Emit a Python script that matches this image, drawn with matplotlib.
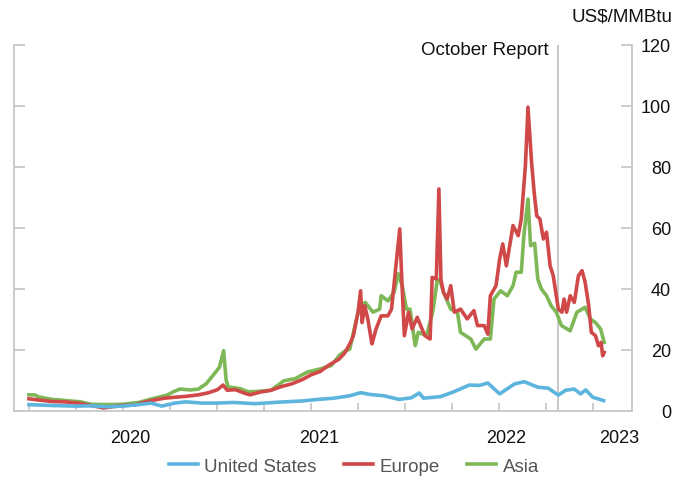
import matplotlib
matplotlib.use("Agg")
import matplotlib.pyplot as plt
import matplotlib.dates as mdates
import numpy as np
import pandas as pd

plt.rcParams['font.family'] = ['Liberation Sans', 'DejaVu Sans']

# ---------------- data (US$/MMBtu) ----------------
us_dates = ["2020-01-01", "2020-02-15", "2020-04-01", "2020-05-01", "2020-06-01", "2020-07-01",
            "2020-08-01", "2020-08-25", "2020-09-15", "2020-10-10", "2020-11-01", "2020-12-01",
            "2021-01-01", "2021-02-01", "2021-03-15", "2021-05-01", "2021-06-15", "2021-07-15",
            "2021-08-15", "2021-09-15", "2021-10-06", "2021-10-25", "2021-11-20", "2021-12-20",
            "2022-01-12", "2022-01-28", "2022-02-05", "2022-03-10", "2022-04-05", "2022-05-05",
            "2022-05-25", "2022-06-10", "2022-07-03", "2022-08-01", "2022-08-20", "2022-09-15",
            "2022-10-05", "2022-10-25", "2022-11-08", "2022-11-25", "2022-12-07", "2022-12-17",
            "2022-12-31", "2023-01-21"]
us_values = [2.1, 1.8, 1.6, 1.7, 1.4, 1.6,
             2.1, 2.6, 1.6, 2.6, 3.0, 2.6,
             2.6, 2.8, 2.4, 2.9, 3.3, 3.8,
             4.2, 5.0, 6.0, 5.4, 5.0, 3.8,
             4.3, 5.9, 4.2, 4.7, 6.3, 8.5,
             8.4, 9.2, 5.6, 8.9, 9.6, 7.8,
             7.5, 5.2, 6.8, 7.2, 5.6, 6.9,
             4.5, 3.4]

eu_dates = ["2020-01-01", "2020-01-20", "2020-02-15", "2020-03-10", "2020-04-05", "2020-05-01",
            "2020-05-25", "2020-06-10", "2020-07-01", "2020-07-25", "2020-08-15", "2020-09-01",
            "2020-09-20", "2020-10-10", "2020-11-01", "2020-11-25", "2020-12-15", "2021-01-01",
            "2021-01-12", "2021-01-20", "2021-02-05", "2021-02-20", "2021-03-05", "2021-03-25",
            "2021-04-15", "2021-05-05", "2021-05-25", "2021-06-15", "2021-07-01", "2021-07-20",
            "2021-08-05", "2021-08-15", "2021-08-25", "2021-09-05", "2021-09-15", "2021-09-22",
            "2021-10-01", "2021-10-06", "2021-10-09", "2021-10-14", "2021-10-20", "2021-10-28",
            "2021-11-05", "2021-11-15", "2021-11-28", "2021-12-05", "2021-12-13", "2021-12-21",
            "2021-12-25", "2021-12-30", "2022-01-07", "2022-01-14", "2022-01-24", "2022-02-02",
            "2022-02-08", "2022-02-18", "2022-02-22", "2022-03-02", "2022-03-07", "2022-03-11",
            "2022-03-16", "2022-03-23", "2022-03-30", "2022-04-06", "2022-04-18", "2022-05-01",
            "2022-05-14", "2022-05-21", "2022-06-03", "2022-06-10", "2022-06-15", "2022-06-26",
            "2022-07-03", "2022-07-09", "2022-07-16", "2022-07-29", "2022-08-08", "2022-08-14",
            "2022-08-22", "2022-08-27", "2022-09-03", "2022-09-08", "2022-09-13", "2022-09-19",
            "2022-09-26", "2022-10-02", "2022-10-09", "2022-10-15", "2022-10-25", "2022-11-01",
            "2022-11-05", "2022-11-10", "2022-11-17", "2022-11-25", "2022-12-03", "2022-12-10",
            "2022-12-16", "2022-12-23", "2022-12-28", "2023-01-05", "2023-01-11", "2023-01-16",
            "2023-01-19", "2023-01-22"]
eu_values = [4.0, 3.6, 3.1, 3.0, 2.6, 1.8,
             1.0, 1.4, 1.8, 2.0, 3.0, 3.6,
             4.2, 4.5, 4.8, 5.3, 6.0, 7.0,
             8.5, 6.8, 7.0, 6.0, 5.3, 6.2,
             6.8, 8.0, 8.9, 10.3, 11.8, 13.0,
             15.0, 16.0, 17.0, 19.0, 22.0, 24.7,
             32.4, 39.4, 29.0, 34.5, 30.2, 22.0,
             26.9, 31.2, 31.2, 33.4, 46.6, 59.7,
             43.0, 24.7, 32.4, 26.9, 30.7, 27.0,
             24.7, 23.6, 43.8, 43.3, 72.8, 43.0,
             38.9, 36.7, 41.1, 32.4, 33.4, 30.2,
             32.9, 28.0, 28.0, 25.2, 37.8, 41.1,
             49.8, 54.8, 47.6, 60.8, 57.5, 63.0,
             80.4, 99.6, 81.5, 71.7, 64.0, 63.0,
             56.4, 58.6, 47.6, 44.4, 33.4, 32.4,
             36.7, 32.4, 37.8, 35.6, 44.4, 46.0,
             42.2, 34.5, 25.8, 24.7, 21.4, 22.5,
             18.1, 19.2]

asia_dates = ["2020-01-01", "2020-01-12", "2020-01-20", "2020-02-15", "2020-03-15", "2020-04-10",
              "2020-05-01", "2020-06-01", "2020-07-01", "2020-08-01", "2020-08-25", "2020-09-25",
              "2020-10-10", "2020-10-20", "2020-11-10", "2020-11-25", "2020-12-10", "2020-12-25",
              "2021-01-05", "2021-01-13", "2021-01-18", "2021-01-22", "2021-02-15", "2021-03-01",
              "2021-03-20", "2021-04-15", "2021-05-10", "2021-06-01", "2021-06-25", "2021-07-20",
              "2021-08-10", "2021-08-25", "2021-09-05", "2021-09-15", "2021-09-25", "2021-10-03",
              "2021-10-15", "2021-10-30", "2021-11-12", "2021-11-15", "2021-11-28", "2021-12-10",
              "2021-12-18", "2021-12-26", "2022-01-03", "2022-01-10", "2022-01-20", "2022-01-26",
              "2022-02-11", "2022-02-23", "2022-03-04", "2022-03-09", "2022-03-16", "2022-03-30",
              "2022-04-12", "2022-04-18", "2022-05-08", "2022-05-18", "2022-06-03", "2022-06-15",
              "2022-06-22", "2022-07-05", "2022-07-18", "2022-07-29", "2022-08-04", "2022-08-14",
              "2022-08-19", "2022-08-27", "2022-09-01", "2022-09-09", "2022-09-15", "2022-09-22",
              "2022-10-02", "2022-10-11", "2022-10-21", "2022-10-31", "2022-11-17", "2022-11-30",
              "2022-12-16", "2022-12-26", "2023-01-05", "2023-01-15", "2023-01-22"]
asia_values = [5.3, 5.3, 4.6, 3.8, 3.4, 3.0,
               2.2, 2.1, 2.2, 2.8, 3.9, 5.2,
               6.5, 7.2, 6.9, 7.2, 8.9, 12.0,
               14.4, 19.8, 10.0, 7.9, 7.3, 6.3,
               6.4, 6.8, 9.9, 10.6, 12.8, 13.8,
               14.9, 18.1, 19.6, 20.3, 28.0, 33.4,
               35.6, 32.4, 33.4, 37.8, 36.1, 38.9,
               45.0, 41.0, 33.4, 33.4, 21.4, 25.8,
               24.7, 32.4, 43.0, 43.0, 38.9, 33.4,
               32.4, 25.8, 23.6, 20.3, 23.6, 23.6,
               36.7, 39.4, 37.8, 41.1, 45.5, 45.5,
               57.5, 69.5, 54.2, 55.0, 43.3, 40.0,
               37.8, 34.5, 32.4, 28.0, 26.3, 32.4,
               34.0, 30.2, 29.0, 26.9, 22.5]

series_names = ["United States", "Europe", "Asia"]
series_colors = ["#5db5de", "#d04848", "#7db756"]

year_labels = ["2020", "2021", "2022", "2023"]
year_label_dates = ["2020-07-15", "2021-07-18", "2022-07-15", "2023-02-20"]
y_ticks = [0, 20, 40, 60, 80, 100, 120]
report_date = "2022-10-25"
report_label = "October Report"
unit_label = "US$/MMBtu"

# ---------------- figure ----------------
fig = plt.figure(figsize=(6.87, 4.81), dpi=100)
ax = fig.add_axes([13.5 / 687, 69 / 481, (632 - 13.5) / 687, (412 - 46) / 481])

spine_col = "#c8c8c8"
lw = 2.6
fs = 13
order = [2, 1, 0]  # draw Asia, Europe, then US on top
data = [(us_dates, us_values), (eu_dates, eu_values), (asia_dates, asia_values)]
handles = [None] * 3
for z, i in enumerate(order):
    d, v = data[i]
    h, = ax.plot(pd.to_datetime(d), v, color=series_colors[i], lw=lw,
                 solid_joinstyle="round", zorder=2 + z, label=series_names[i])
    handles[i] = h

ax.set_xlim(pd.Timestamp("2019-12-02"), pd.Timestamp("2023-03-17"))
ax.set_ylim(0, 120)

ax.spines["top"].set_visible(False)
for s in ["left", "right", "bottom"]:
    ax.spines[s].set_color(spine_col)
    ax.spines[s].set_linewidth(1.3)

# x ticks: quarterly, inward, no labels; year labels as minor ticks
ax.xaxis.set_major_locator(mdates.MonthLocator(bymonth=[1, 4, 7, 10]))
ax.xaxis.set_major_formatter(plt.NullFormatter())
ax.set_xticks(pd.to_datetime(year_label_dates), minor=True)
ax.set_xticklabels(year_labels, minor=True)
ax.tick_params(axis="x", which="major", direction="in", length=6, width=1.3, color=spine_col)
ax.tick_params(axis="x", which="minor", length=0, pad=13, labelsize=fs, labelcolor="#111111")

# y ticks: on both sides inward, labels on right
ax.set_yticks(y_ticks)
ax.tick_params(axis="y", which="major", direction="in", length=8, width=1.3, color=spine_col,
               left=True, right=True, labelleft=False, labelright=True, pad=28,
               labelsize=fs, labelcolor="#111111")
for lab in ax.get_yticklabels():
    lab.set_horizontalalignment("right")

# October report line
rd = pd.Timestamp(report_date)
ax.axvline(rd, color="#c4c4c4", lw=1.3, zorder=1)
ax.text(rd - pd.Timedelta(days=18), 118.5, report_label, ha="right", va="center",
        fontsize=13.5, color="#111111")

fig.text(672 / 687, 1 - 17 / 481, unit_label, ha="right", va="center", fontsize=13.5,
         color="#111111")

fig.legend(handles=handles, labels=series_names, loc="center", ncol=3,
           bbox_to_anchor=(354 / 687, 14 / 481), frameon=False, fontsize=13.5,
           handlelength=1.55, handletextpad=0.35, columnspacing=1.45, labelcolor="#555555")

fig.savefig("out.png", dpi=100)
